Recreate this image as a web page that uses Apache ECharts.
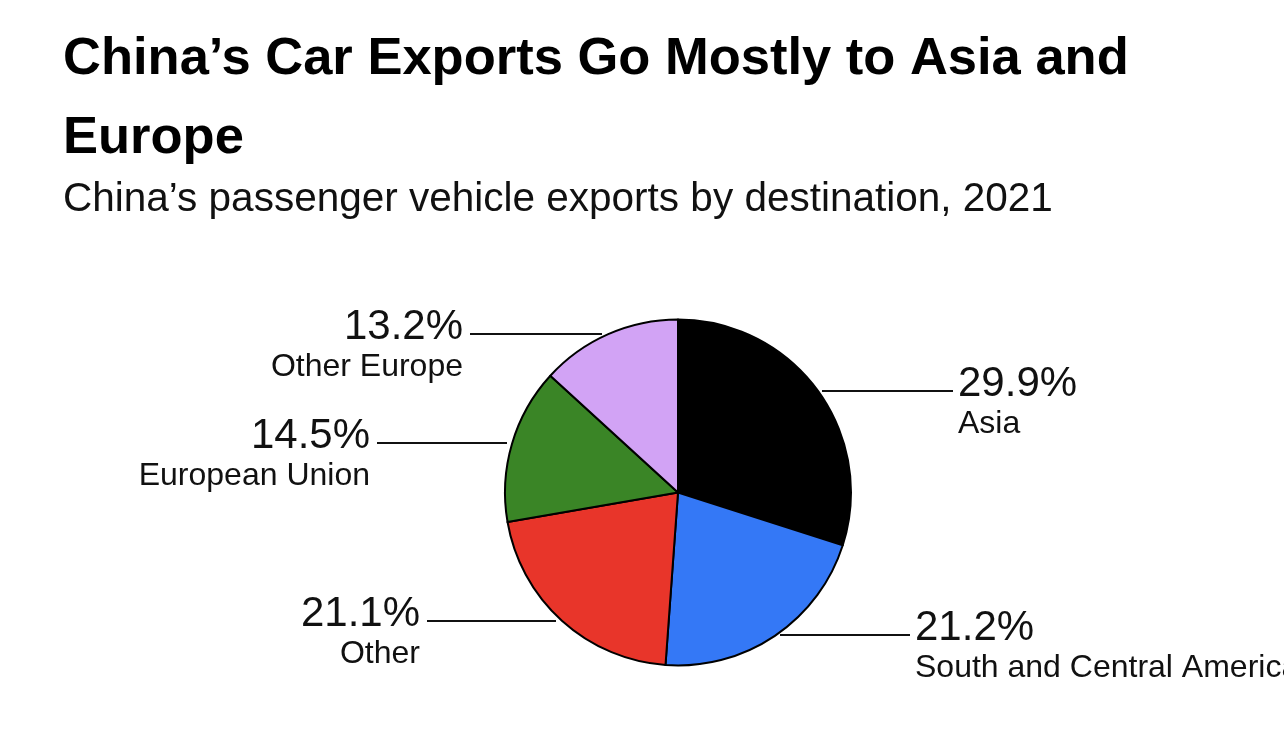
<!DOCTYPE html>
<html>
<head>
<meta charset="utf-8">
<script src="https://cdn.jsdelivr.net/npm/echarts@6/dist/echarts.min.js"></script>
<style>
html,body{margin:0;padding:0;background:#fff;}
#chart{width:1284px;height:738px;}
</style>
</head>
<body>
<div id="chart"></div>
<script>
// ---- data ----
const categories = ['Asia', 'South and Central America', 'Other', 'European Union', 'Other Europe'];
const shares = [29.9, 21.2, 21.1, 14.5, 13.2];
const colors = ['#000000', '#3478F6', '#E8352A', '#3A8526', '#D2A3F5'];

// label guide placement (annotation layout, in px)
const guideLineY   = [391, 635, 621, 443, 334];
const guideInner   = [822, 780, 556, 507, 602];
const guideOuter   = [953, 910, 427, 377, 470];
const guideSide    = ['right', 'right', 'left', 'left', 'left'];

const chart = echarts.init(document.getElementById('chart'), null, {renderer: 'canvas'});

const FONT = '"Liberation Sans", Arial, Helvetica, sans-serif';

chart.setOption({
  backgroundColor: '#ffffff',
  animation: false,
  title: [
    {
      text: 'China’s Car Exports Go Mostly to Asia and\nEurope',
      left: 58, top: 15,
      textStyle: {fontFamily: FONT, fontWeight: 'bold', fontSize: 52.5, lineHeight: 79, color: '#000'}
    },
    {
      text: 'China’s passenger vehicle exports by destination, 2021',
      left: 58, top: 172,
      textStyle: {fontFamily: FONT, fontWeight: 'normal', fontSize: 40.5, lineHeight: 46, color: '#111'}
    }
  ],
  series: [{
    type: 'pie',
    center: [678, 492.5],
    radius: 173,
    startAngle: 90,
    clockwise: true,
    avoidLabelOverlap: false,
    data: categories.map((c, i) => ({
      name: c,
      value: shares[i],
      itemStyle: {color: colors[i]}
    })),
    itemStyle: {borderColor: '#000', borderWidth: 2},
    emphasis: {disabled: true},
    label: {
      show: true,
      position: 'outer',
      formatter: p => '{p|' + p.value.toFixed(1) + '%}\n{n|' + p.name + '}',
      rich: {
        p: {fontFamily: FONT, fontSize: 42, lineHeight: 44, color: '#111'},
        n: {fontFamily: FONT, fontSize: 32, lineHeight: 35, color: '#111'}
      }
    },
    labelLine: {show: true, lineStyle: {color: '#111', width: 2}},
    labelLayout: function (params) {
      const i = params.dataIndex;
      const y = guideLineY[i];
      const right = guideSide[i] === 'right';
      const x = right ? guideOuter[i] + 5 : guideOuter[i] - 7;
      return {
        x: x,
        y: y - 28.5,
        align: right ? 'left' : 'right',
        verticalAlign: 'top',
        labelLinePoints: [[guideInner[i], y], [(guideInner[i] + guideOuter[i]) / 2, y], [guideOuter[i], y]]
      };
    }
  }]
});
</script>
</body>
</html>
